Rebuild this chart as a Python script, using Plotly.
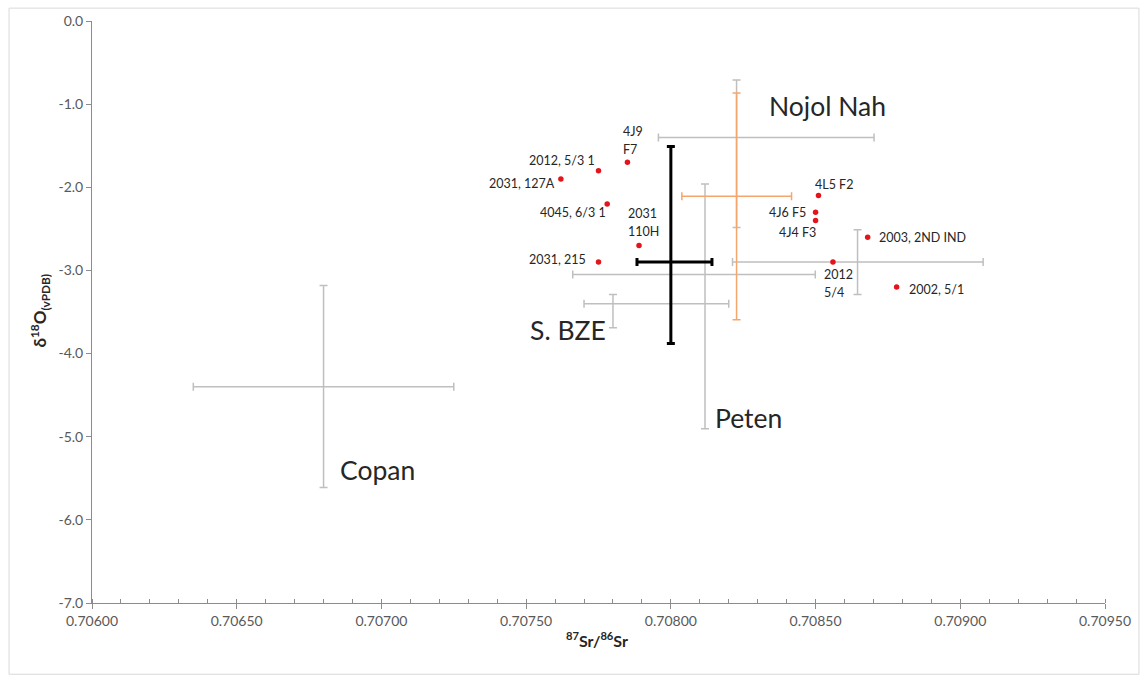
import plotly.graph_objects as go

# Individual samples: 87Sr/86Sr vs d18O (vPDB)
sample_labels = ["2012, 5/3 1", "2031, 127A", "4J9\nF7", "4045, 6/3 1", "2031\n110H",
                 "2031, 215", "4L5 F2", "4J6 F5", "4J4 F3", "2003, 2ND IND",
                 "2012\n5/4", "2002, 5/1"]
sample_sr = [0.70775, 0.70762, 0.70785, 0.70778, 0.70789, 0.70775,
             0.70851, 0.70850, 0.70850, 0.70868, 0.70856, 0.70878]
sample_o = [-1.8, -1.9, -1.7, -2.2, -2.7, -2.9, -2.1, -2.3, -2.4, -2.6, -2.9, -3.2]

# Reference ranges (centre with plus / minus extents)
ref_names = ["Copan", "S. BZE", "Peten", "Nojol Nah", "Group E", "Group F", "Group G"]
ref_sr = [0.70680, 0.70780, 0.708118, 0.708227, 0.708227, 0.70800, 0.708645]
ref_sr_minus = [0.00045, 0.00010, 0.000457, 0.00027, 0.000189, 0.000117, 0.000432]
ref_sr_plus = [0.00045, 0.00040, 0.000381, 0.000475, 0.00019, 0.000142, 0.000434]
ref_o = [-4.40, -3.40, -3.05, -1.40, -2.107, -2.90, -2.90]
ref_o_plus = [1.22, 0.11, 1.09, 0.69, 1.24, 1.39, 0.39]
ref_o_minus = [1.21, 0.29, 1.855, 1.085, 1.485, 0.98, 0.39]

# Region names shown on the chart
region_labels = ["Nojol Nah", "S. BZE", "Peten", "Copan"]
region_sr = [0.708333, 0.707505, 0.708147, 0.706849]
region_o = [-1.024, -3.714, -4.774, -5.405]

# Axis ticks
x_tick_vals = [0.7060, 0.7065, 0.7070, 0.7075, 0.7080, 0.7085, 0.7090, 0.7095]
x_tick_labels = ["0.70600", "0.70650", "0.70700", "0.70750", "0.70800",
                 "0.70850", "0.70900", "0.70950"]
y_tick_vals = [0, -1, -2, -3, -4, -5, -6, -7]
y_tick_labels = ["0.0", "-1.0", "-2.0", "-3.0", "-4.0", "-5.0", "-6.0", "-7.0"]

# Styling per reference range
ref_colors = ["#BFBFBF", "#BFBFBF", "#BFBFBF", "#BFBFBF", "#F5A66C", "#000000", "#BFBFBF"]
ref_widths = [1.5, 1.5, 1.5, 1.5, 1.5, 3, 1.5]
draw_order = [0, 1, 2, 3, 6, 4, 5]

# Label placement relative to each sample point (pixels): anchor, dx, dy of first line
label_place = [("right", -2, 10), ("right", -4, -5), ("left", -6, 31), ("right", 1, -9),
               ("left", -13, 32), ("right", -11, 3), ("left", -5, 11), ("right", -8, 0),
               ("right", 2, -12), ("left", 9, 0), ("left", -11, -12), ("left", 10, -2)]
line_gap = 18

FONT = "Lato"
TEXT = "#262626"

fig = go.Figure()

for i in draw_order:
    fig.add_trace(go.Scatter(
        x=[ref_sr[i]], y=[ref_o[i]], mode="markers", name=ref_names[i],
        marker=dict(size=1, color="rgba(0,0,0,0)"),
        error_x=dict(type="data", symmetric=False, array=[ref_sr_plus[i]],
                     arrayminus=[ref_sr_minus[i]], color=ref_colors[i],
                     thickness=ref_widths[i], width=4),
        error_y=dict(type="data", symmetric=False, array=[ref_o_plus[i]],
                     arrayminus=[ref_o_minus[i]], color=ref_colors[i],
                     thickness=ref_widths[i], width=4),
        hoverinfo="skip", showlegend=False))

fig.add_trace(go.Scatter(
    x=sample_sr, y=sample_o, mode="markers", name="Samples",
    marker=dict(size=5.5, color="#E3141C"), showlegend=False))

annotations = []
for lab, sx, so, (anc, dx, dy) in zip(sample_labels, sample_sr, sample_o, label_place):
    for k, line in enumerate(lab.split("\n")):
        annotations.append(dict(
            x=sx, y=so, xref="x", yref="y", text=line, showarrow=False,
            xanchor=anc, yanchor="middle", xshift=dx, yshift=dy - k * line_gap,
            font=dict(family=FONT, size=12.5, color=TEXT)))

for lab, sx, so in zip(region_labels, region_sr, region_o):
    annotations.append(dict(
        x=sx, y=so, xref="x", yref="y", text=lab, showarrow=False,
        xanchor="left", yanchor="middle",
        font=dict(family=FONT, size=26.5, color=TEXT)))

annotations.append(dict(
    x=0.499, y=-0.063, xref="paper", yref="paper",
    text="<b><sup>87</sup>Sr/<sup>86</sup>Sr</b>", showarrow=False,
    xanchor="center", yanchor="middle",
    font=dict(family=FONT, size=16, color=TEXT)))
annotations.append(dict(
    x=-0.051, y=0.503, xref="paper", yref="paper", textangle=-90,
    text="<b>δ<sup>18</sup>O<sub>(vPDB)</sub></b>", showarrow=False,
    xanchor="center", yanchor="middle",
    font=dict(family=FONT, size=17, color=TEXT)))

axis_col = "#8C8C8C"
fig.update_layout(
    width=1143, height=678,
    margin=dict(l=92, r=37, t=15, b=75),
    paper_bgcolor="white", plot_bgcolor="white",
    annotations=annotations,
    shapes=[dict(type="rect", xref="paper", yref="paper",
                 x0=-0.0819, x1=1.0335, y0=-0.1224, y1=1.0221,
                 line=dict(color="#D9D9D9", width=1))],
    xaxis=dict(range=[0.7060, 0.7095], tickvals=x_tick_vals, ticktext=x_tick_labels,
               showgrid=False, zeroline=False, showline=True, linecolor=axis_col,
               linewidth=1, ticks="outside", ticklen=5, tickcolor=axis_col,
               minor=dict(dtick=0.0001, ticks="inside", ticklen=4, tickcolor=axis_col,
                          showgrid=False),
               tickfont=dict(family=FONT, size=14, color="#595959")),
    yaxis=dict(range=[-7, 0], tickvals=y_tick_vals, ticktext=y_tick_labels,
               showgrid=False, zeroline=False, showline=True, linecolor=axis_col,
               linewidth=1, ticks="outside", ticklen=5, tickcolor=axis_col,
               tickfont=dict(family=FONT, size=14, color="#595959")),
)

fig.write_html("out.html")
